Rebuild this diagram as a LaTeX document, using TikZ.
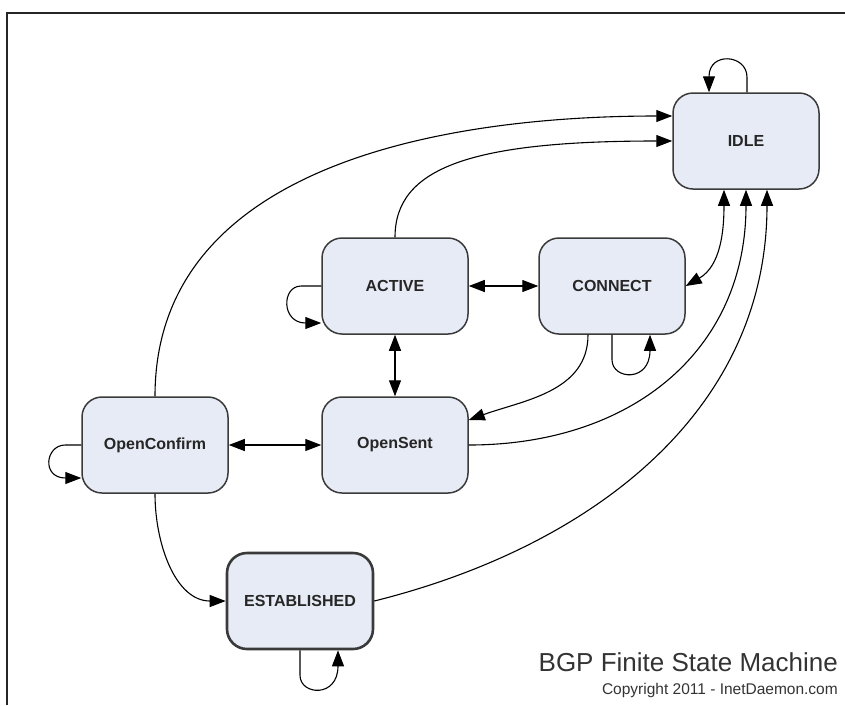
\documentclass[tikz,border=0pt]{standalone}
\usepackage{fontspec}
\setsansfont{Liberation Sans}
\usetikzlibrary{arrows.meta}
\definecolor{statefill}{HTML}{E7EBF5}
\definecolor{stateline}{HTML}{3A3A3A}
\tikzset{
    state/.style={draw=stateline, fill=statefill, line width=1.5pt, rounded corners=20pt, text=black!85,
        minimum width=146pt, minimum height=96pt, font=\sffamily\bfseries\fontsize{16}{16}\selectfont},
    trans/.style={line width=1.1pt, -{Triangle[length=16pt,width=12pt]}},
    both/.style={line width=1.1pt, {Triangle[length=16pt,width=12pt]}-{Triangle[length=16pt,width=12pt]}},
}
\begin{document}
\begin{tikzpicture}[x=1pt,y=-1pt]
    \useasboundingbox (0,0) rectangle (845,705);
    \draw[line width=2.5pt,black!85] (7,705) -- (7,13) -- (845,13);
    %% states
    \node[state] (idle) at (746,141) {IDLE};
    \node[state] (active) at (395,286) {ACTIVE};
    \node[state] (connect) at (612,286) {CONNECT};
    \node[state] (openconfirm) at (155,445) {OpenConfirm};
    \node[state] (opensent) at (395,445) {OpenSent};
    \node[state,line width=2.6pt] (established) at (300,601) {ESTABLISHED};
    %% self loops
    \draw[trans] ([xshift=1pt]idle.north) -- ++(0,-15) .. controls +(0,-23) and +(0,-41) .. ([xshift=-37pt]idle.north);
    \draw[trans] (active.west) -- ++(-20,0) .. controls +(-20,0) and +(-40,0) .. ([yshift=-37pt]active.west);
    \draw[trans] (openconfirm.west) -- ++(-16,0) .. controls +(-20,0) and +(-40,0) .. ([yshift=-33pt]openconfirm.west);
    \draw[trans] (connect.south) -- ++(0,25) .. controls +(0,20) and +(0,48) .. ([xshift=38pt]connect.south);
    \draw[trans] (established.south) -- ++(0,25) .. controls +(0,20) and +(0,48) .. ([xshift=38pt]established.south);
    %% both ways
    \draw[both] (active) -- (connect);
    \draw[both] (active) -- (opensent);
    \draw[both] (openconfirm) -- (opensent);
    \draw[both] (connect.east) to[out=30,in=-90] ([xshift=-22pt]idle.south);
    %% back to idle
    \draw[trans] (opensent.east) to[out=0,in=-90,looseness=1.1] (idle.south);
    \draw[trans] (established.east) to[out=14,in=-90] ([xshift=21pt]idle.south);
    \draw[trans] (active.north) .. controls +(0,-70) and +(-200,0) .. (idle.west);
    \draw[trans] (openconfirm.north) to[out=90,in=180] ([yshift=25pt]idle.west);
    %% forward
    \draw[trans] ([xshift=-24pt]connect.south) to[out=-90,in=20] ([yshift=25pt]opensent.east);
    \draw[trans] (openconfirm.south) to[out=-90,in=180] (established.west);
    %% caption
    \node[anchor=base east,inner sep=0pt,text=black!80,font=\sffamily\fontsize{26}{26}\selectfont] (title) at (838,671) {BGP Finite State Machine};
    \node[anchor=base east,inner sep=0pt,text=black!80,font=\sffamily\fontsize{15.5}{15.5}\selectfont] (copyright) at (838,694) {Copyright 2011 - InetDaemon.com};
\end{tikzpicture}
\end{document}
